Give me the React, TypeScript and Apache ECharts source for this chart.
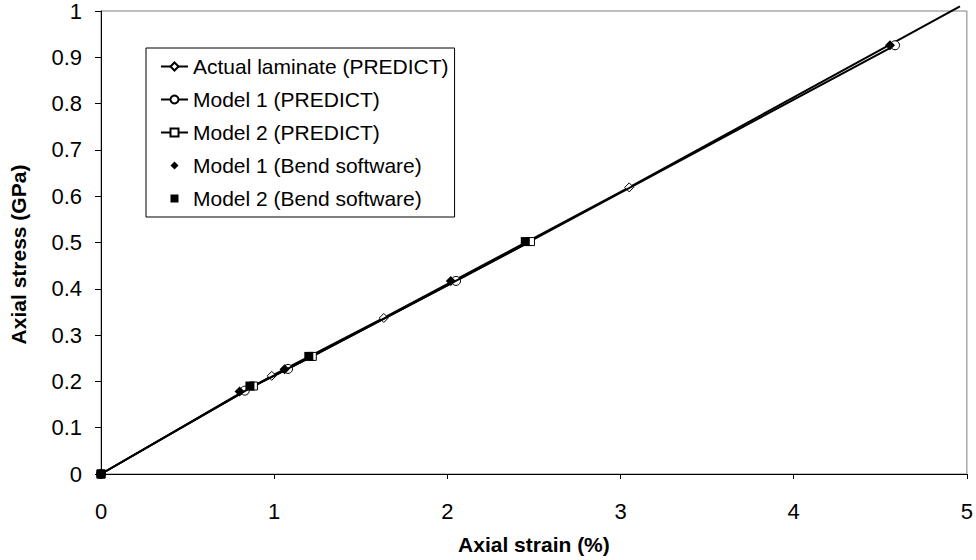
import React, { useEffect, useRef } from "react";
import * as echarts from "echarts";

const FONT = "'Liberation Sans', Arial, sans-serif";

const seriesNames = [
  "Actual laminate (PREDICT)",
  "Model 1 (PREDICT)",
  "Model 2 (PREDICT)",
  "Model 1 (Bend software)",
  "Model 2 (Bend software)",
];

// [strain %, stress GPa]
const actualLaminate: number[][] = [
  [0, 0],
  [0.986, 0.212],
  [1.633, 0.337],
  [3.05, 0.619],
  [4.96, 1.01],
];
const model1Predict: number[][] = [
  [0, 0],
  [0.83, 0.18],
  [1.08, 0.227],
  [2.05, 0.417],
  [4.585, 0.926],
];
const model2Predict: number[][] = [
  [0, 0],
  [0.88, 0.19],
  [1.22, 0.254],
  [2.48, 0.502],
];
const model1Bend: number[][] = [
  [0, 0],
  [0.8, 0.178],
  [1.06, 0.226],
  [2.02, 0.417],
  [4.556, 0.926],
];
const model2Bend: number[][] = [
  [0, 0],
  [0.86, 0.19],
  [1.2, 0.254],
  [2.45, 0.502],
];

const xTicks = { min: 0, max: 5, interval: 1 };
const yTicks = { min: 0, max: 1, interval: 0.1 };

export default function App() {
  const ref = useRef<HTMLDivElement>(null);
  useEffect(() => {
    if (!ref.current) return;
    const chart = echarts.init(ref.current, null, { renderer: "svg" });
    const lastIdx = actualLaminate.length - 1;
    const markerOnly = {
      lineStyle: { width: 0, opacity: 0 },
    };
    chart.setOption({
      animation: false,
      backgroundColor: "#fff",
      textStyle: { fontFamily: FONT, color: "#000" },
      grid: {
        left: 97,
        right: 4,
        top: 10,
        bottom: 78,
        show: true,
        borderColor: "#808080",
        borderWidth: 1,
        backgroundColor: "transparent",
      },
      legend: {
        orient: "vertical",
        left: 146,
        top: 48,
        padding: [8, 6, 8, 14],
        itemGap: 12,
        itemWidth: 27,
        itemHeight: 10,
        backgroundColor: "#fff",
        borderColor: "#000",
        borderWidth: 1,
        borderRadius: 0,
        textStyle: { fontFamily: FONT, fontSize: 21, color: "#000" },
        data: [
          { name: seriesNames[0] },
          { name: seriesNames[1] },
          { name: seriesNames[2] },
          { name: seriesNames[3], lineStyle: { opacity: 0 } },
          { name: seriesNames[4], lineStyle: { opacity: 0 } },
        ],
      },
      xAxis: {
        type: "value",
        min: xTicks.min,
        max: xTicks.max,
        interval: xTicks.interval,
        name: "Axial strain (%)",
        nameLocation: "middle",
        nameGap: 60,
        nameTextStyle: { fontFamily: FONT, fontSize: 21, fontWeight: "bold", color: "#000" },
        axisLine: { onZero: false, lineStyle: { color: "#000", width: 1 } },
        axisTick: { show: true, inside: false, length: 5, lineStyle: { color: "#000" } },
        axisLabel: { fontFamily: FONT, fontSize: 22, color: "#000", margin: 26 },
        splitLine: { show: false },
      },
      yAxis: {
        type: "value",
        min: yTicks.min,
        max: yTicks.max,
        interval: yTicks.interval,
        name: "Axial stress (GPa)",
        nameLocation: "middle",
        nameGap: 72,
        nameTextStyle: {
          fontFamily: FONT,
          fontSize: 21,
          fontWeight: "bold",
          color: "#000",
          padding: [0, 24, 0, 0],
        },
        axisLine: { onZero: false, lineStyle: { color: "#000", width: 1 } },
        axisTick: { show: true, inside: false, length: 6, lineStyle: { color: "#000" } },
        axisLabel: { fontFamily: FONT, fontSize: 22, color: "#000", margin: 19 },
        splitLine: { show: false },
      },
      series: [
        {
          name: seriesNames[0],
          type: "line",
          clip: false,
          data: actualLaminate.map((p, i) =>
            i === lastIdx ? { value: p, symbol: "none" } : { value: p }
          ),
          symbol: "diamond",
          symbolSize: 9,
          showAllSymbol: true,
          lineStyle: { color: "#000", width: 2 },
          itemStyle: { color: "#fff", borderColor: "#000", borderWidth: 1 },
          z: 2,
        },
        {
          name: seriesNames[1],
          type: "line",
          data: model1Predict,
          symbol: "circle",
          symbolSize: 9,
          showAllSymbol: true,
          lineStyle: { color: "#000", width: 2 },
          itemStyle: { color: "#fff", borderColor: "#000", borderWidth: 1 },
          z: 3,
        },
        {
          name: seriesNames[2],
          type: "line",
          data: model2Predict,
          symbol: "rect",
          symbolSize: 8,
          showAllSymbol: true,
          lineStyle: { color: "#000", width: 2 },
          itemStyle: { color: "#fff", borderColor: "#000", borderWidth: 1 },
          z: 4,
        },
        {
          name: seriesNames[3],
          type: "line",
          data: model1Bend,
          symbol: "diamond",
          symbolSize: 10,
          showAllSymbol: true,
          ...markerOnly,
          itemStyle: { color: "#000" },
          z: 5,
        },
        {
          name: seriesNames[4],
          type: "line",
          data: model2Bend,
          symbol: "rect",
          symbolSize: 9,
          showAllSymbol: true,
          ...markerOnly,
          itemStyle: { color: "#000" },
          z: 6,
        },
      ],
    });
    return () => chart.dispose();
  }, []);
  return (
    <div
      ref={ref}
      style={{ position: "fixed", left: 0, top: 0, width: 976, height: 560 }}
    />
  );
}
